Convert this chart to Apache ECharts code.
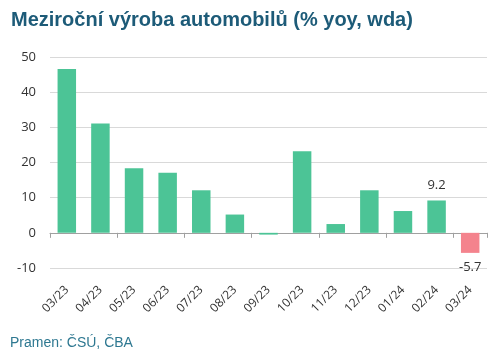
<!DOCTYPE html>
<html><head><meta charset="utf-8">
<script src="https://cdn.jsdelivr.net/npm/echarts@6/dist/echarts.min.js"></script>
<style>html,body{margin:0;padding:0;background:#fff}#c{width:500px;height:357px}</style>
</head><body><div id="c"></div>
<script>
const categories = ['03/23','04/23','05/23','06/23','07/23','08/23','09/23','10/23','11/23','12/23','01/24','02/24','03/24'];
const values = [46.6, 31.1, 18.4, 17.1, 12.1, 5.2, -0.5, 23.2, 2.5, 12.1, 6.2, 9.2, -5.7];
const labelledIndex = [11, 12];
const yTicks = { min: -10, max: 50, interval: 10 };
const titleText = 'Meziroční výroba automobilů (% yoy, wda)';
const sourceText = 'Pramen: ČSÚ, ČBA';

const GREEN = '#4cc496', PINK = '#f4838d';
const data = values.map((v, i) => ({
  value: v,
  itemStyle: { color: v < -1 ? PINK : GREEN },
  label: labelledIndex.includes(i) ? {
    show: true, position: v >= 0 ? 'top' : 'bottom',
    formatter: p => p.value.toFixed(1), color: '#333', fontSize: 13,
    fontFamily: 'Open Sans', distance: v >= 0 ? 9 : 8
  } : { show: false }
}));

const chart = echarts.init(document.getElementById('c'));
chart.setOption({
  animation: false,
  title: [
    { text: titleText, left: 6, top: 5, textStyle: { fontFamily: 'Liberation Sans, Arial', fontWeight: 'bold', fontSize: 20, color: '#1d5b78' } },
    { text: sourceText, left: 5, top: 331, textStyle: { fontFamily: 'Liberation Sans, Arial', fontWeight: 'normal', fontSize: 14, color: '#2e7891' } }
  ],
  grid: { left: 50, right: 13, top: 57, bottom: 89 },
  xAxis: [
    { type: 'category', data: categories, position: 'bottom',
      axisLine: { onZero: true, lineStyle: { color: '#a0a0a0', width: 1 } },
      axisTick: { show: true, length: 5, lineStyle: { color: '#a0a0a0' } },
      axisLabel: { show: false }, splitLine: { show: false } },
    { type: 'category', data: categories, position: 'bottom',
      axisLine: { show: false, onZero: false }, axisTick: { show: false },
      axisLabel: { show: true, rotate: 45, margin: 20, color: '#333', fontSize: 12, fontFamily: 'Open Sans', interval: 0 } }
  ],
  yAxis: { type: 'value', min: yTicks.min, max: yTicks.max, interval: yTicks.interval,
    axisLine: { show: false }, axisTick: { show: false },
    axisLabel: { color: '#333', fontSize: 13, fontFamily: 'Open Sans', margin: 14 },
    splitLine: { lineStyle: { color: '#d9d9d9', width: 1 } } },
  series: [{ type: 'bar', xAxisIndex: 0, data: data, barWidth: '55%' }]
});
</script></body></html>
